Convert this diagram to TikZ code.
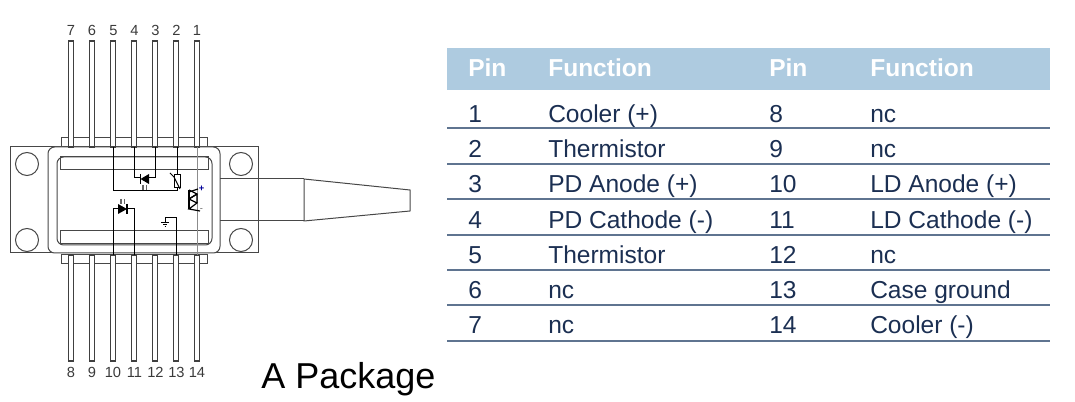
\documentclass[tikz,border=0pt]{standalone}
\usepackage{fontspec}
\setmainfont{Liberation Sans}
\definecolor{headblue}{HTML}{AECBE0}
\definecolor{rulegray}{HTML}{5F7490}
\definecolor{cellink}{HTML}{1B2F52}
\definecolor{pinink}{HTML}{3A3A3A}
\tikzset{
  pinnum/.style={text=pinink,font=\fontsize{11pt}{12pt}\selectfont,anchor=base,inner sep=0pt},
  cell/.style={text=cellink,font=\fontsize{18.4pt}{22pt}\selectfont,anchor=base west,inner sep=0pt},
  headcell/.style={text=white,font=\fontsize{18.4pt}{22pt}\selectfont\bfseries,anchor=base west,inner sep=0pt},
  tablerule/.style={rulegray,line width=1pt},
  outline/.style={black!72,line width=0.75pt},
  wire/.style={black,line width=0.75pt},
  pinlead/.style={black!75,line width=0.9pt,fill=white}
}
\begin{document}
\begin{tikzpicture}[x=0.75pt,y=-0.75pt]
  \useasboundingbox (0,0) rectangle (1075,402);
  % flanges and pin strips
  \draw[outline] (10,147) rectangle (258,253);
  \draw[outline] (61,138) rectangle (207,147);
  \draw[outline] (61,255) rectangle (207,264);
  \draw[outline,fill=white,rounded corners=5pt] (48,147) rectangle (220,253);
  \draw[outline,rounded corners=5pt] (57,157) rectangle (212,245);
  \draw[outline] (60,157) rectangle (208,170);
  \draw[outline] (60,231) rectangle (208,244);
  % mounting holes
  \draw[outline] (27,164) circle (11.5);
  \draw[outline] (27,240) circle (11.5);
  \draw[outline] (241,164) circle (11.5);
  \draw[outline] (241,240) circle (11.5);
  % fibre
  \draw[outline] (220,179) -- (304,179);
  \draw[outline] (220,221) -- (304,221);
  \draw[outline] (304,179) -- (410,190) -- (410,211) -- (304,221) -- cycle;
  % top pins
  \draw[pinlead] (68.5,147) rectangle (73.5,41);
  \draw[pinlead] (89.5,147) rectangle (94.5,41);
  \draw[pinlead] (110.5,147) rectangle (115.5,41);
  \draw[pinlead] (131.5,147) rectangle (136.5,41);
  \draw[pinlead] (152.5,147) rectangle (157.5,41);
  \draw[pinlead] (173.5,147) rectangle (178.5,41);
  \draw[pinlead] (194.5,147) rectangle (199.5,41);
  % bottom pins
  \draw[pinlead] (68.5,255) rectangle (73.5,361);
  \draw[pinlead] (89.5,255) rectangle (94.5,361);
  \draw[pinlead] (110.5,255) rectangle (115.5,361);
  \draw[pinlead] (131.5,255) rectangle (136.5,361);
  \draw[pinlead] (152.5,255) rectangle (157.5,361);
  \draw[pinlead] (173.5,255) rectangle (178.5,361);
  \draw[pinlead] (194.5,255) rectangle (199.5,361);
  % pin numbers
  \node[pinnum] (t7) at (71,36) {7};
  \node[pinnum] (t6) at (92,36) {6};
  \node[pinnum] (t5) at (113.5,36) {5};
  \node[pinnum] (t4) at (134.5,36) {4};
  \node[pinnum] (t3) at (155.5,36) {3};
  \node[pinnum] (t2) at (176.5,36) {2};
  \node[pinnum] (t1) at (197,36) {1};
  \node[pinnum] (b8) at (71,378) {8};
  \node[pinnum] (b9) at (92,378) {9};
  \node[pinnum] (b10) at (113,378) {10};
  \node[pinnum] (b11) at (134.5,378) {11};
  \node[pinnum] (b12) at (155.5,378) {12};
  \node[pinnum] (b13) at (176.5,378) {13};
  \node[pinnum] (b14) at (197,378) {14};
  % thermistor and monitor diode
  \draw[wire] (113,147) -- (113,191) -- (177,191) -- (177,188);
  \draw[wire] (177,147) -- (177,175);
  \draw[wire,fill=white] (174,175) rectangle (180,188);
  \draw[wire] (170,173) -- (174,177) -- (180,189);
  \draw[wire] (134,147) -- (134,178) -- ++(6,0);
  \draw[wire] (155,147) -- (155,178) -- ++(-6,0);
  \fill[black] (140.5,179) -- (149,174) -- (149,184) -- cycle;
  \draw[wire,line width=1pt] (140.5,174) -- (140.5,184);
  \draw[black!60,line width=0.8pt] (143,185) -- ++(0,5);
  \draw[black!60,line width=0.8pt] (146.5,185) -- ++(0,5);
  % laser diode
  \draw[wire] (113,255) -- (113,209) -- ++(5,0);
  \draw[wire] (134,255) -- (134,209) -- ++(-7,0);
  \fill[black] (127,209) -- (118,204) -- (118,214) -- cycle;
  \draw[wire,line width=1pt] (127,204) -- (127,214);
  \draw[black!60,line width=0.8pt] (121,199) -- ++(0,5);
  \draw[black!60,line width=0.8pt] (124.5,199) -- ++(0,5);
  % ground
  \draw[wire] (176,255) -- (176,218) -- (165,218) -- (165,222);
  \draw[wire] (161,222.5) -- ++(8,0);
  \draw[wire] (163,225) -- ++(4,0);
  \draw[wire] (164.5,227) -- ++(1,0);
  % cooler
  \draw[black!45,line width=0.9pt] (197.5,147) -- (197.5,255);
  \draw[wire,line width=0.9pt] (189,190) -- (189,209);
  \draw[wire,line width=0.9pt] (189,190) -- (197,194) -- (189,199) -- (197,203) -- (189,209) -- (200,211);
  \draw[wire,line width=0.9pt] (189,192) -- (198,189);
  \draw[wire,line width=0.9pt] (189,199) -- (197,194) (197,203) -- (197,194);
  \node[text=blue!60!black,font=\fontsize{7pt}{7pt}\selectfont\bfseries,inner sep=0pt] (tecplus) at (201.5,189) {+};
  \node[text=black!60,font=\fontsize{7pt}{7pt}\selectfont,inner sep=0pt] (tecminus) at (201.5,210.5) {-};
  % caption
  \node[text=black,font=\fontsize{27pt}{32pt}\selectfont,anchor=base west,inner sep=0pt] (caption) at (261,389) {A Package};
  % table
  \fill[headblue] (447,48) rectangle (1050,90);
  \node[headcell] (h1) at (468,77) {Pin};
  \node[headcell] (h2) at (548,77) {Function};
  \node[headcell] (h3) at (769,77) {Pin};
  \node[headcell] (h4) at (870,77) {Function};
  \draw[tablerule] (447,128) -- (1050,128);
  \draw[tablerule] (447,164) -- (1050,164);
  \draw[tablerule] (447,199) -- (1050,199);
  \draw[tablerule] (447,235) -- (1050,235);
  \draw[tablerule] (447,270) -- (1050,270);
  \draw[tablerule] (447,305) -- (1050,305);
  \draw[tablerule] (447,341) -- (1050,341);
  \node[cell] (p1) at (468,122.5) {1};
  \node[cell] (f1) at (548,122.5) {Cooler (+)};
  \node[cell] (p8) at (769,122.5) {8};
  \node[cell] (f8) at (870,122.5) {nc};
  \node[cell] (p2) at (468,158) {2};
  \node[cell] (f2) at (548,158) {Thermistor};
  \node[cell] (p9) at (769,158) {9};
  \node[cell] (f9) at (870,158) {nc};
  \node[cell] (p3) at (468,193) {3};
  \node[cell] (f3) at (548,193) {PD Anode (+)};
  \node[cell] (p10) at (769,193) {10};
  \node[cell] (f10) at (870,193) {LD Anode (+)};
  \node[cell] (p4) at (468,228.5) {4};
  \node[cell] (f4) at (548,228.5) {PD Cathode (-)};
  \node[cell] (p11) at (769,228.5) {11};
  \node[cell] (f11) at (870,228.5) {LD Cathode (-)};
  \node[cell] (p5) at (468,263.5) {5};
  \node[cell] (f5) at (548,263.5) {Thermistor};
  \node[cell] (p12) at (769,263.5) {12};
  \node[cell] (f12) at (870,263.5) {nc};
  \node[cell] (p6) at (468,299) {6};
  \node[cell] (f6) at (548,299) {nc};
  \node[cell] (p13) at (769,299) {13};
  \node[cell] (f13) at (870,299) {Case ground};
  \node[cell] (p7) at (468,334) {7};
  \node[cell] (f7) at (548,334) {nc};
  \node[cell] (p14) at (769,334) {14};
  \node[cell] (f14) at (870,334) {Cooler (-)};
\end{tikzpicture}
\end{document}
